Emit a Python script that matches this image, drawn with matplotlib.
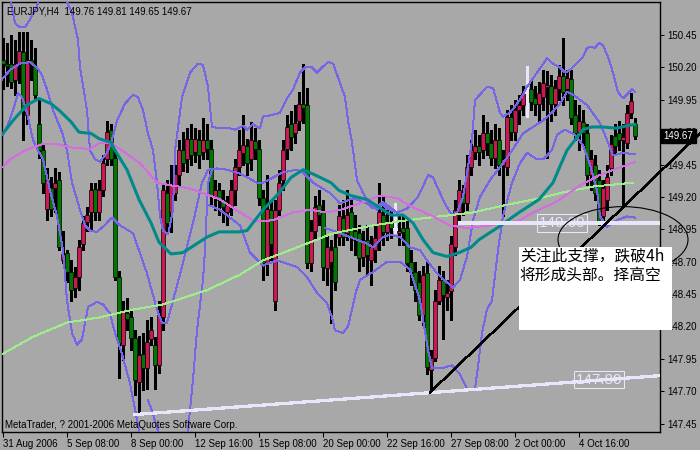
import matplotlib
matplotlib.use('Agg')
import matplotlib.pyplot as plt
from matplotlib.patches import Rectangle, Ellipse

plt.rcParams['font.family'] = ['Liberation Sans', 'DejaVu Sans']
plt.rcParams['lines.antialiased'] = False

# EURJPY H4 bars, 31 Aug 2006 .. 5 Oct 2006 (one entry per bar)
opens = [150.26, 150.23, 150.23, 150.10, 150.23, 150.32, 149.83, 150.26, 150.21, 149.76,
         149.56, 149.11, 149.27, 149.27, 149.33, 148.71, 148.77, 148.62, 148.50, 148.58,
         148.84, 149.01, 149.08, 149.26, 149.08, 149.25, 149.49, 149.72, 149.50, 148.58,
         148.06, 148.30, 148.27, 148.11, 147.77, 147.99, 147.88, 148.10, 148.06, 147.90,
         148.27, 149.23, 149.08, 149.23, 149.37, 149.56, 149.49, 149.65, 149.55, 149.64,
         149.55, 149.64, 149.57, 149.20, 149.25, 149.18, 149.08, 149.12, 149.25, 149.43,
         149.54, 149.59, 149.49, 149.63, 149.57, 149.19, 148.69, 149.10, 148.40, 149.10,
         149.33, 149.57, 149.76, 149.69, 149.79, 149.92, 149.91, 148.69, 148.94, 149.14,
         149.08, 148.65, 148.70, 148.81, 148.89, 149.04, 148.92, 149.08, 148.94, 148.92,
         148.74, 148.87, 148.71, 148.79, 148.87, 149.06, 148.93, 149.01, 148.95, 148.92,
         148.96, 148.96, 148.70, 148.62, 148.54, 148.29, 148.61, 147.86, 147.96, 148.40,
         148.56, 148.43, 148.47, 148.81, 149.08, 149.23, 149.15, 149.43, 149.55, 149.59,
         149.56, 149.69, 149.62, 149.50, 149.64, 149.45, 149.43, 149.82, 149.70, 149.87,
         149.91, 150.01, 150.03, 149.96, 149.92, 149.97, 150.05, 150.06, 149.92, 150.03,
         150.13, 150.03, 150.11, 149.83, 149.70, 149.78, 149.69, 149.37, 149.45, 149.33,
         149.05, 149.18, 149.42, 149.67, 149.69, 149.64, 149.62, 149.85, 149.76]
highs = [150.43, 150.39, 150.45, 150.41, 150.47, 150.47, 150.47, 150.41, 150.35, 149.95,
         149.60, 149.42, 149.35, 149.42, 149.39, 148.94, 148.79, 148.71, 148.66, 148.87,
         149.05, 149.12, 149.31, 149.31, 149.33, 149.52, 149.79, 149.76, 149.56, 148.63,
         148.40, 148.42, 148.33, 148.17, 148.13, 148.15, 148.25, 148.27, 148.12, 148.40,
         149.31, 149.33, 149.45, 149.45, 149.64, 149.70, 149.73, 149.76, 149.73, 149.72,
         149.81, 149.76, 149.64, 149.33, 149.31, 149.25, 149.21, 149.33, 149.49, 149.72,
         149.83, 149.65, 149.78, 149.73, 149.64, 149.25, 149.37, 149.18, 149.18, 149.41,
         149.64, 149.83, 149.86, 149.91, 150.01, 150.23, 150.04, 149.02, 149.21, 149.25,
         149.18, 148.90, 148.87, 148.94, 149.14, 149.18, 149.25, 149.18, 149.06, 148.98,
         148.94, 148.98, 148.90, 148.98, 149.31, 149.21, 149.14, 149.10, 149.15, 149.06,
         149.06, 149.02, 148.79, 148.70, 148.63, 148.67, 148.70, 148.02, 148.48, 148.67,
         148.63, 148.56, 148.90, 149.18, 149.33, 149.29, 149.52, 149.64, 149.72, 149.68,
         149.83, 149.78, 149.72, 149.76, 149.73, 149.56, 149.87, 149.91, 149.95, 149.99,
         150.06, 150.21, 150.10, 150.06, 150.09, 150.18, 150.17, 150.14, 150.10, 150.22,
         150.43, 150.18, 150.18, 149.95, 149.91, 149.87, 149.76, 149.56, 149.52, 149.41,
         149.33, 149.45, 149.68, 149.76, 149.79, 149.76, 149.91, 150.00, 149.81]
lows = [150.03, 150.06, 150.04, 149.99, 150.08, 149.64, 149.76, 150.10, 149.96, 149.50,
        149.23, 149.02, 149.05, 149.08, 148.79, 148.69, 148.54, 148.40, 148.43, 148.48,
        148.79, 148.94, 148.94, 149.02, 149.02, 149.21, 149.45, 149.45, 148.56, 147.80,
        147.94, 148.17, 148.02, 147.67, 147.53, 147.71, 147.72, 148.06, 147.72, 147.84,
        148.17, 148.93, 148.93, 149.18, 149.29, 149.40, 149.39, 149.45, 149.47, 149.42,
        149.49, 149.49, 149.14, 149.10, 149.06, 149.01, 148.98, 149.06, 149.14, 149.37,
        149.45, 149.37, 149.41, 149.49, 149.14, 148.56, 148.60, 148.71, 148.33, 149.06,
        149.25, 149.49, 149.56, 149.62, 149.72, 149.77, 148.65, 148.63, 148.87, 148.98,
        148.56, 148.52, 148.23, 148.48, 148.83, 148.83, 148.87, 148.79, 148.75, 148.63,
        148.67, 148.60, 148.52, 148.70, 148.79, 148.83, 148.87, 148.88, 148.92, 148.83,
        148.83, 148.63, 148.52, 148.40, 148.25, 148.21, 147.83, 147.69, 147.93, 148.37,
        148.10, 148.33, 148.25, 148.75, 149.02, 149.06, 149.10, 149.37, 149.49, 149.45,
        149.50, 149.52, 149.45, 149.42, 149.37, 149.05, 149.37, 149.64, 149.64, 149.76,
        149.83, 149.82, 149.87, 149.83, 149.79, 149.87, 149.50, 149.79, 149.83, 149.95,
        149.91, 149.95, 149.76, 149.64, 149.56, 149.60, 149.29, 149.25, 149.18, 148.98,
        149.01, 149.10, 149.37, 149.52, 149.56, 149.12, 149.58, 149.81, 149.65]
closes = [150.23, 150.21, 150.09, 150.23, 150.33, 149.86, 150.26, 150.23, 149.99, 149.56,
          149.31, 149.33, 149.11, 149.31, 148.81, 148.76, 148.62, 148.48, 148.58, 148.81,
          149.00, 149.06, 149.25, 149.08, 149.25, 149.46, 149.70, 149.49, 148.58, 148.07,
          148.31, 148.26, 148.11, 147.79, 147.98, 147.88, 148.08, 148.17, 147.90, 148.29,
          149.25, 149.00, 149.29, 149.38, 149.56, 149.46, 149.65, 149.52, 149.65, 149.52,
          149.64, 149.57, 149.21, 149.25, 149.18, 149.12, 149.14, 149.25, 149.43, 149.56,
          149.60, 149.46, 149.64, 149.57, 149.19, 148.69, 149.11, 148.84, 149.10, 149.31,
          149.56, 149.74, 149.66, 149.77, 149.92, 149.89, 148.69, 148.94, 149.12, 149.06,
          148.66, 148.81, 148.79, 148.54, 149.05, 148.89, 149.06, 148.89, 148.87, 148.73,
          148.85, 148.75, 148.81, 148.88, 149.08, 148.93, 149.01, 148.96, 148.95, 148.94,
          148.93, 148.69, 148.62, 148.48, 148.29, 148.60, 147.89, 147.96, 148.40, 148.56,
          148.44, 148.46, 148.84, 149.10, 149.25, 149.15, 149.43, 149.56, 149.59, 149.55,
          149.69, 149.62, 149.50, 149.64, 149.45, 149.49, 149.82, 149.70, 149.87, 149.91,
          150.00, 150.01, 149.93, 149.92, 150.00, 150.08, 150.06, 149.92, 150.04, 150.13,
          150.01, 150.12, 149.81, 149.69, 149.79, 149.69, 149.37, 149.49, 149.23, 149.00,
          149.27, 149.35, 149.61, 149.59, 149.64, 149.66, 149.85, 149.94, 149.67]

date_ticks = [0, 16, 32, 48, 64, 80, 96, 112, 128, 144]
date_labels = ['31 Aug 2006', '5 Sep 08:00', '8 Sep 00:00', '12 Sep 16:00', '15 Sep 08:00',
               '20 Sep 00:00', '22 Sep 16:00', '27 Sep 08:00', '2 Oct 00:00', '4 Oct 16:00']
price_ticks = [147.45, 147.70, 147.95, 148.20, 148.45, 148.70, 148.95,
               149.20, 149.45, 149.70, 149.95, 150.20, 150.45]

# indicator lines, read as (bar, price) points
ma_fast = [(0, 149.69), (2.5, 149.79), (6, 149.91), (9, 149.96), (12, 149.92), (14, 149.87),
           (17, 149.78), (19, 149.70), (22, 149.69), (24, 149.65), (27, 149.62), (28, 149.56),
           (31, 149.41), (34, 149.18), (37, 149.00), (39, 148.85), (42, 148.76), (45, 148.77),
           (47, 148.81), (51, 148.89), (54, 148.93), (59, 148.93), (61, 148.94), (65, 149.10),
           (69, 149.23), (72, 149.35), (75, 149.41), (78, 149.37), (82, 149.31), (84, 149.25),
           (87, 149.21), (91, 149.18), (93, 149.14), (97, 149.06), (100, 149.06), (102.5, 149.00),
           (105, 148.87), (107.5, 148.77), (111, 148.74), (114, 148.77), (117, 148.81),
           (119, 148.87), (124, 148.97), (129, 149.08), (134, 149.18), (137.5, 149.31),
           (140, 149.49), (141, 149.56), (143, 149.64), (145, 149.72), (147.25, 149.74),
           (150, 149.74), (153.5, 149.73), (156, 149.75), (158, 149.76)]
ma_mid = [(0, 149.43), (1.75, 149.49), (5.5, 149.56), (10, 149.61), (13.5, 149.61), (17.5, 149.58),
          (21.75, 149.57), (24.25, 149.62), (26.75, 149.62), (29.25, 149.57), (34.25, 149.46),
          (38.5, 149.31), (41.75, 149.29), (46, 149.27), (50, 149.23), (54.25, 149.18),
          (59.25, 149.08), (63, 149.01), (67.5, 149.02), (72.5, 149.08), (76.75, 149.10),
          (81, 149.08), (84.25, 149.10), (89.25, 149.15), (94.25, 149.21), (98.5, 149.19),
          (102.5, 149.12), (107.5, 149.05), (111.75, 148.98), (116, 148.96), (121.75, 148.98),
          (129.25, 149.02), (132.5, 149.08), (136.75, 149.14), (139.25, 149.18), (144.25, 149.29),
          (149.25, 149.37), (153.5, 149.42), (158, 149.47)]
ma_slow = [(0, 147.99), (7.5, 148.12), (16, 148.23), (24.25, 148.27), (32.5, 148.33), (40, 148.37),
           (46, 148.43), (51, 148.48), (59.25, 148.60), (65, 148.71), (73.5, 148.81), (81.75, 148.91),
           (84.25, 148.93), (92.5, 148.98), (101, 149.02), (109.25, 149.05), (117.5, 149.08),
           (126, 149.14), (134.25, 149.19), (139.25, 149.23), (147.5, 149.28), (157.5, 149.31)]

band_top = [(1.75, 150.74), (3, 150.54), (4.25, 150.51), (5.5, 150.51), (6.75, 150.57),
            (8.5, 150.67), (9, 150.74)]
band_outer = [(15.5, 150.74), (17.25, 150.62), (18.75, 150.41), (19.25, 150.20), (21, 149.87),
              (21.75, 149.56), (23, 149.49), (24.25, 149.47), (26, 149.54), (27.25, 149.64),
              (28.5, 149.79), (30.5, 149.92), (32.5, 149.99), (33.75, 149.97), (35, 149.87),
              (36.25, 149.69), (37.5, 149.56), (38.5, 149.31), (39.25, 149.05), (40, 148.94),
              (41.25, 148.91), (42.5, 149.10), (43, 149.56), (44.75, 149.97), (46.75, 150.16),
              (48.75, 150.23), (50, 150.22), (51.25, 150.05), (52.25, 149.74), (54.25, 149.73),
              (56.75, 149.73), (58, 149.72), (60, 149.75), (61, 149.72), (62.5, 149.76),
              (64.25, 149.73), (65, 149.82), (66.75, 149.83), (69.25, 149.85), (71, 149.96),
              (72.5, 150.03), (74.25, 150.16), (75.5, 150.20), (77.25, 150.20), (78.5, 150.16),
              (79.75, 150.20), (81.25, 150.24), (82.5, 150.23), (84.25, 150.08), (85.5, 149.97),
              (86.25, 149.79), (87.25, 149.62), (88.5, 149.33), (90, 149.23), (91.75, 149.14),
              (93.5, 149.10), (94.75, 149.15), (96, 149.11), (98.5, 149.08), (101, 149.11),
              (103.5, 149.19), (105, 149.28), (106.25, 149.37), (107.5, 149.35), (109.25, 149.23),
              (111, 149.12), (112.25, 149.06), (113.5, 149.08), (115, 149.20), (116.25, 149.43),
              (117.25, 149.64), (118, 149.95), (119.25, 149.99), (121, 150.05), (122.5, 150.04),
              (124.25, 149.85), (125, 149.82), (126.75, 149.85), (129.25, 149.95), (131, 150.05),
              (133.5, 150.16), (136, 150.27), (137.5, 150.23), (139.25, 150.20), (140.5, 150.16),
              (141.75, 150.18), (143, 150.22), (144.75, 150.27), (146, 150.35), (147.25, 150.36),
              (148, 150.35), (149, 150.39), (150, 150.37), (151.25, 150.28), (152.5, 150.16),
              (153.75, 150.01), (155, 149.96), (156.25, 150.00), (157.25, 150.03), (158, 150.01)]
band_inner = [(-0.75, 150.09), (1.75, 150.18), (4.25, 150.23), (6.75, 150.24), (8.5, 150.20),
              (9.75, 150.14), (11, 150.03), (12.5, 149.87), (14.75, 149.70), (16, 149.56),
              (17.25, 149.31), (19.25, 149.10), (20.5, 148.98), (21.75, 148.94), (23.5, 148.93),
              (25, 148.97), (27.25, 149.04), (29.25, 148.98), (32.5, 148.92), (36, 148.61),
              (38.5, 148.33), (39.75, 148.23), (41, 148.23), (42.5, 148.40), (45, 148.69),
              (47.5, 149.00), (49.75, 149.31), (51.25, 149.41), (53.5, 149.42), (56, 149.41),
              (59.25, 149.38), (63.5, 149.31), (65, 149.31), (67.5, 149.35), (70, 149.39),
              (73.5, 149.41), (75, 149.39), (77.5, 149.31), (81.75, 149.23), (84.25, 149.15),
              (87.5, 149.19), (91, 149.15), (92.5, 149.11), (95, 149.16), (98.5, 149.08)]
band_low_left = [(0, 149.68), (1.25, 149.76), (2.5, 149.87), (3.75, 150.00), (4.75, 149.97),
                 (6, 149.85), (7.5, 149.64), (8.75, 149.56), (10, 149.49), (11.75, 149.25),
                 (13.5, 149.05), (15, 148.79), (16, 148.40), (17.25, 148.15), (18.5, 148.06),
                 (19.75, 148.10), (21.25, 148.35), (23.5, 148.39), (25, 148.37), (26.75, 148.30),
                 (28, 148.15), (30, 147.96), (31.75, 147.76), (33.5, 147.48), (34.75, 147.28),
                 (35.75, 147.18)]
band_dip = [(36.25, 147.63), (37.25, 147.55), (38.5, 147.42), (40, 147.28), (41, 147.18),
            (43.25, 147.09), (45, 147.18), (46, 147.32), (47.5, 147.79), (48.5, 148.17),
            (50, 148.56), (50.5, 148.79), (51.25, 149.31), (52.25, 149.41)]
band_low = [(51.25, 149.14), (54.25, 149.10), (56.75, 149.04), (59.25, 148.98), (61.75, 148.77),
            (65, 148.67), (68.5, 148.71), (73.5, 148.66), (76, 148.58), (78.5, 148.46),
            (81, 148.38), (82.25, 148.27), (83, 148.17), (85, 148.15), (86.25, 148.20),
            (87.25, 148.33), (88.25, 148.47), (89.25, 148.56), (92.5, 148.62), (96, 148.70),
            (99.25, 148.70), (101.75, 148.64), (104.25, 148.40), (106.25, 148.02), (107.25, 147.88),
            (110, 147.88), (112.25, 147.90), (114.25, 147.83), (116, 147.72), (118, 147.72),
            (118.75, 147.89), (119.75, 148.15), (121, 148.33), (122.25, 148.40), (123.75, 148.79),
            (125, 149.05), (127.25, 149.31), (129.25, 149.46), (131, 149.54), (133.5, 149.49),
            (135, 149.49), (137.25, 149.56), (138.5, 149.68), (140.5, 149.72), (143, 149.68),
            (145, 149.60), (146.75, 149.45), (148.5, 149.25), (149.25, 149.05), (151, 148.97),
            (153.5, 149.02), (156, 149.05), (158, 149.04)]
band_low_inner = [(80.5, 148.96), (84.25, 148.92), (91, 148.84), (92.5, 148.81), (95, 148.89),
                  (96.75, 148.91), (99.25, 148.89), (101.75, 148.81), (104.25, 148.79), (106, 148.71),
                  (108.5, 148.61), (111, 148.54), (112.5, 148.50), (114.25, 148.56), (116, 148.74),
                  (117.5, 149.02), (119.25, 149.20), (121.75, 149.33), (125, 149.46), (127.5, 149.57),
                  (130, 149.69), (132.5, 149.74), (135, 149.79), (137.5, 149.86), (139.25, 149.92),
                  (141, 150.01), (142.5, 149.99), (146, 149.91), (149.25, 149.77), (151, 149.64),
                  (152.5, 149.52), (155, 149.54), (158, 149.53)]

# drawn objects
support_bars = [33, 164.25]
support_prices = [147.52, 147.82]
trend_bars = [106.75, 174.25]
trend_prices = [147.69, 149.69]
level_price = 149.00
level_start = 113.75
note_lines = ['关注此支撑，跌破4h', '将形成头部。择高空']

BG = '#a8a8a8'
UP = '#cc1850'
DOWN = '#007800'
BAND = '#7466e6'
LAV = '#e8e6fa'

fig = plt.figure(figsize=(7, 4.5), dpi=100, facecolor=BG)
ax = fig.add_axes([2 / 700, 18 / 450, 658 / 700, 430 / 450], facecolor=BG)
ax.set_xlim(-0.25, 164.25)
ax.set_ylim(147.385, 150.705)

# candles
for i in range(len(opens)):
    o, h, l, c = opens[i], highs[i], lows[i], closes[i]
    if o == c:
        ax.vlines(i, l, h, color=LAV, lw=1, zorder=3)
        ax.hlines(o, i - 0.4, i + 0.4, color=LAV, lw=1, zorder=3)
        continue
    ax.vlines(i, l, h, color='black', lw=0.75, zorder=2)
    body_lo = min(o, c)
    body_h = max(abs(c - o), 0.012)
    ax.add_patch(Rectangle((i - 0.4, body_lo), 0.8, body_h,
                           fc=UP if c > o else DOWN, ec='black', lw=0.5, zorder=3))

def draw_line(pts, **kw):
    xs, ys = zip(*pts)
    ax.plot(xs, ys, **kw)

for seg in [band_top, band_outer, band_inner, band_low_left, band_dip, band_low, band_low_inner]:
    draw_line(seg, color=BAND, lw=0.7, zorder=4)
draw_line(ma_slow, color='#9fec8c', lw=0.7, zorder=4)
draw_line(ma_mid, color='#d46ee0', lw=0.7, zorder=4)
draw_line(ma_fast, color='#008a8a', lw=2.2, zorder=5, antialiased=True)

# support / resistance objects
ax.plot(support_bars, support_prices, color=LAV, lw=1.6, zorder=6)
ax.hlines(level_price, level_start, 164.25, color=LAV, lw=1.6, zorder=6)
ax.text(139.8, level_price, '149.00', color=LAV, fontsize=11, ha='center', va='center', zorder=7,
        bbox=dict(boxstyle='square,pad=0.12', fc='none', ec=LAV, lw=0.75))
ax.text(149.0, 147.79, '147.80', color=LAV, fontsize=11, ha='center', va='center', zorder=7,
        bbox=dict(boxstyle='square,pad=0.12', fc='none', ec=LAV, lw=0.75))
ax.plot(trend_bars, trend_prices, color='black', lw=1.0, zorder=8, clip_on=False)
ax.add_patch(Ellipse((155, 148.87), 32.5, 0.51, fill=False, ec='black', lw=0.8,
                     zorder=8, clip_on=False))

# note box
ax.add_patch(Rectangle((129, 148.17), 38.25, 0.64, fc='white', ec='none',
                       zorder=10, clip_on=False))
ax.text(129.2, 148.735, note_lines[0], fontsize=11.3, va='center', ha='left', zorder=11,
        family=['Noto Sans CJK SC', 'DejaVu Sans'], clip_on=False)
ax.text(129.2, 148.595, note_lines[1], fontsize=11.3, va='center', ha='left', zorder=11,
        family=['Noto Sans CJK SC', 'DejaVu Sans'], clip_on=False)

# last price tag
ax.text(165.2, closes[-1], '%.2f' % closes[-1], color='white', fontsize=7, ha='left', va='center',
        zorder=12, clip_on=False, bbox=dict(boxstyle='square,pad=0.25', fc='black', ec='black'))

# axes
ax.yaxis.tick_right()
ax.set_yticks(price_ticks)
ax.set_yticklabels(['%.2f' % p for p in price_ticks])
ax.set_xticks(date_ticks)
ax.set_xticklabels(date_labels)
for lab in ax.get_xticklabels():
    lab.set_horizontalalignment('left')
ax.tick_params(axis='y', direction='out', length=3, width=0.75, pad=2, labelsize=7, colors='black')
ax.tick_params(axis='x', direction='out', length=3.5, width=0.75, pad=1.5, labelsize=7, colors='black')
for s in ax.spines.values():
    s.set_color('black')
    s.set_linewidth(1)

fig.text(7 / 700, 1 - 11 / 450, 'EURJPY,H4  149.76 149.81 149.65 149.67', fontsize=7, va='center')
fig.text(5 / 700, 1 - 425 / 450, 'MetaTrader, ? 2001-2006 MetaQuotes Software Corp.',
         fontsize=7, va='center')

fig.savefig('out.png', dpi=100, facecolor=BG)
